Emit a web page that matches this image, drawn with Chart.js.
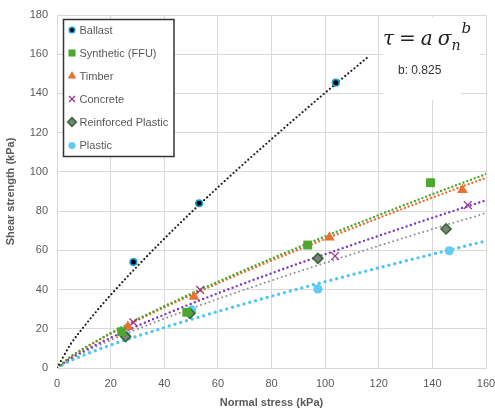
<!DOCTYPE html>
<html><head><meta charset="utf-8">
<script src="https://cdn.jsdelivr.net/npm/chart.js@4/dist/chart.umd.min.js"></script>
<style>html,body{margin:0;padding:0;background:#fff}</style>
</head><body>
<canvas id="c" width="495" height="414"></canvas>
<script>
// ---- data ----
const seriesNames = ["Ballast", "Synthetic (FFU)", "Timber", "Concrete", "Reinforced Plastic", "Plastic"];
const ballastX = [28.5, 53, 104];            const ballastY = [54, 84, 145.5];
const syntheticX = [24.1, 48.4, 93.5, 139.3]; const syntheticY = [18.5, 28.4, 62.7, 94.5];
const timberX = [26.4, 51.1, 101.6, 151.2];   const timberY = [21, 36.4, 66.6, 90.8];
const concreteX = [28.5, 53.4, 103.7, 153.2]; const concreteY = [23.3, 39.8, 57.1, 83.1];
const reinforcedX = [25.6, 49.6, 97.3, 145.1]; const reinforcedY = [16, 27.9, 55.9, 70.9];
const plasticX = [25.7, 50.3, 97.3, 146.3];   const plasticY = [16.5, 29.6, 40.3, 59.8];

// power trend lines (tau = a sigma^b, b = 0.825)
const trendX = [0, 5, 10, 20, 40, 60, 80, 100, 120, 140, 160];
const ballastTrendX = [0, 5, 10, 20, 40, 60, 80, 100, 116];
const ballastTrend = [0, 11.9, 21.0, 37.2, 65.9, 92.1, 116.7, 140.3, 158.6];
const syntheticTrend = [0, 5.67, 10.0, 17.8, 31.5, 44.0, 55.8, 67.1, 78.0, 88.6, 98.9];
const timberTrend = [0, 5.56, 9.85, 17.5, 30.9, 43.2, 54.8, 65.8, 76.5, 86.9, 97.0];
const concreteTrend = [0, 4.9, 8.68, 15.4, 27.2, 38.1, 48.3, 58.0, 67.4, 76.6, 85.5];
const reinforcedTrend = [0, 4.53, 8.02, 14.2, 25.2, 35.2, 44.6, 53.6, 62.3, 70.8, 79.0];
const plasticTrend = [0, 3.71, 6.58, 11.7, 20.6, 28.8, 36.6, 44.0, 51.1, 58.0, 64.8];

const xTicks = [0, 20, 40, 60, 80, 100, 120, 140, 160];
const yTicks = [0, 20, 40, 60, 80, 100, 120, 140, 160, 180];
const formulaText = "b: 0.825";

// ---- build ----
const pts = (xs, ys) => xs.map((x, i) => ({x, y: ys[i]}));
const TXT = '#595959';
const FONT = '"Liberation Sans", Arial, sans-serif';

const pointStyles = [
  {pointStyle:'circle', radius:3.3, backgroundColor:'#000', borderColor:'#1f9bd7', borderWidth:1.6},
  {pointStyle:'rect', radius:6.3, backgroundColor:'#4ea72e', borderColor:'#4ea72e', borderWidth:0},
  {pointStyle:'triangle', radius:6.2, backgroundColor:'#e97132', borderColor:'#e97132', borderWidth:0},
  {pointStyle:'crossRot', radius:5.5, backgroundColor:'#a02b93', borderColor:'#a02b93', borderWidth:1.3},
  {pointStyle:'rectRot', radius:5, backgroundColor:'#7f7f7f', borderColor:'#2f6b2f', borderWidth:1.6},
  {pointStyle:'circle', radius:4.6, backgroundColor:'#61cbf3', borderColor:'#61cbf3', borderWidth:0}
];
const seriesData = [
  pts(ballastX, ballastY), pts(syntheticX, syntheticY), pts(timberX, timberY),
  pts(concreteX, concreteY), pts(reinforcedX, reinforcedY), pts(plasticX, plasticY)
];
const trendData = [
  pts(ballastTrendX, ballastTrend), pts(trendX, syntheticTrend), pts(trendX, timberTrend),
  pts(trendX, concreteTrend), pts(trendX, reinforcedTrend), pts(trendX, plasticTrend)
];
const trendStyles = [
  {color:'#1a1a1a', width:2.2, dash:[0,4]},
  {color:'#4ea72e', width:2.4, dash:[0,4]},
  {color:'#e97132', width:2.4, dash:[0,4]},
  {color:'#7b35c4', width:2.4, dash:[0,4.5]},
  {color:'#8c8c8c', width:2.0, dash:[0,4.5]},
  {color:'#4fc6f5', width:3.4, dash:[0,6]}
];

const datasets = [];
trendData.forEach((d, i) => {
  datasets.push({label: seriesNames[i] + ' trend', data: d, showLine: true, fill:false,
    borderColor: trendStyles[i].color, borderWidth: trendStyles[i].width,
    borderDash: trendStyles[i].dash, borderCapStyle:'round', cubicInterpolationMode:'monotone',
    pointRadius: 0, pointHoverRadius:0, order: 2});
});
seriesData.forEach((d, i) => {
  const s = pointStyles[i];
  datasets.push({label: seriesNames[i], data: d, showLine:false,
    pointStyle: s.pointStyle, pointRadius: s.radius, pointBackgroundColor: s.backgroundColor,
    pointBorderColor: s.borderColor, pointBorderWidth: s.borderWidth, order: 1});
});

const boxPlugin = {
  id:'box',
  beforeDatasetsDraw(chart){
    const ctx = chart.ctx;
    ctx.save(); ctx.fillStyle='#fff';
    ctx.fillRect(383, 17, 78, 83);
    ctx.fillRect(460, 17, 20, 70);
    ctx.restore();
  },
  afterDraw(chart){
    const ctx = chart.ctx;
    ctx.save();
    // formula
    ctx.fillStyle = '#222';
    ctx.textBaseline = 'alphabetic';
    let x = 383; const base = 45;
    const serif = '"DejaVu Serif", "Liberation Serif", serif';
    const pieces = [
      {t:'τ', f:'italic 20px ' + serif, dy:0, gap:5},
      {t:'=', f:'20px ' + serif, dy:0, gap:5},
      {t:'a', f:'italic 20px ' + serif, dy:0, gap:5},
      {t:'σ', f:'italic 20px ' + serif, dy:0, gap:0},
      {t:'n', f:'italic 14px ' + serif, dy:5, gap:1},
      {t:'b', f:'italic 15px ' + serif, dy:-12, gap:0}
    ];
    pieces.forEach(p => { ctx.font = p.f; ctx.fillText(p.t, x, base + p.dy); x += ctx.measureText(p.t).width + p.gap; });
    ctx.font = '12px ' + FONT; ctx.fillStyle = '#333';
    ctx.textAlign = 'left'; ctx.textBaseline = 'middle';
    ctx.fillText(formulaText, 398, 71);

    // legend
    ctx.fillStyle = '#fff'; ctx.fillRect(63, 19, 111, 138);
    ctx.strokeStyle = '#333'; ctx.lineWidth = 1.5; ctx.strokeRect(63.5, 19.5, 110.5, 137);
    ctx.font = '11px ' + FONT; ctx.fillStyle = TXT; ctx.textBaseline = 'middle';
    const legY = [30, 53, 76, 99, 122, 145.5];
    const legR = [2.8, 5, 5, 4.2, 4.3, 3.6];
    seriesNames.forEach((n, i) => {
      const s = pointStyles[i];
      ctx.fillStyle = s.backgroundColor; ctx.strokeStyle = s.borderColor; ctx.lineWidth = s.borderWidth || 0.01;
      Chart.helpers.drawPoint(ctx, {pointStyle: s.pointStyle, radius: legR[i], borderWidth: s.borderWidth, rotation:0}, 72, legY[i]);
      ctx.fillStyle = TXT;
      ctx.fillText(n, 79.5, legY[i] + 0.5);
    });
    ctx.restore();
  }
};

new Chart(document.getElementById('c'), {
  type: 'scatter',
  data: {datasets},
  options: {
    responsive:false, animation:false,
    layout:{padding:{top:15, right:9, left:0, bottom:0}},
    plugins:{legend:{display:false}, tooltip:{enabled:false}},
    scales:{
      x:{type:'linear', min:0, max:160,
        afterBuildTicks(s){ s.ticks = xTicks.map(v => ({value:v})); },
        afterFit(s){ s.height = 46; s.paddingRight = 0; s.paddingLeft = 0; },
        grid:{color:'#d9d9d9', drawTicks:false, lineWidth:1},
        border:{color:'#d9d9d9'},
        ticks:{color:TXT, font:{size:11, family:FONT}, padding:9, maxRotation:0},
        title:{display:true, text:'Normal stress (kPa)', color:TXT, font:{size:11, weight:'bold', family:FONT}, padding:{top:6}}
      },
      y:{type:'linear', min:0, max:180,
        afterBuildTicks(s){ s.ticks = yTicks.map(v => ({value:v})); },
        afterFit(s){ s.width = 57; s.paddingTop = 0; s.paddingBottom = 0; },
        grid:{color:'#d9d9d9', drawTicks:false, lineWidth:1},
        border:{color:'#d9d9d9'},
        ticks:{color:TXT, font:{size:11, family:FONT}, padding:9},
        title:{display:true, text:'Shear strength (kPa)', color:TXT, font:{size:11, weight:'bold', family:FONT}, padding:{bottom:4}}
      }
    }
  },
  plugins:[boxPlugin]
});
</script>
</body></html>
